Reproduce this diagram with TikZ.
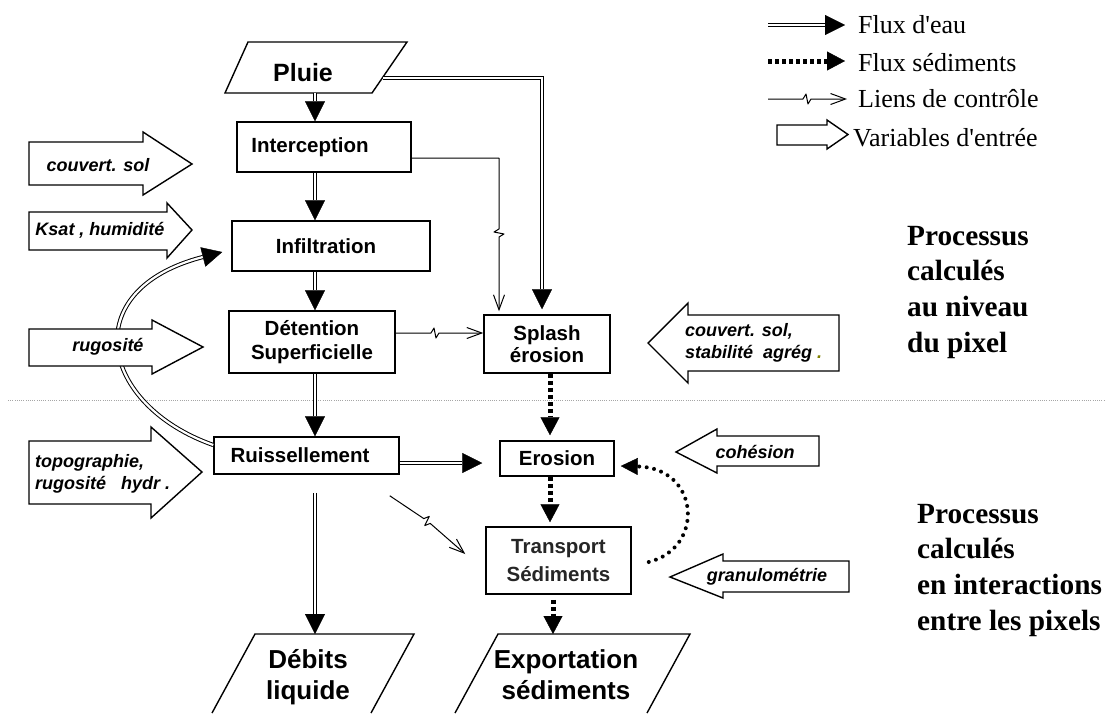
\documentclass[tikz,border=0pt]{standalone}
\usepackage{fontspec}
\setmainfont{Liberation Serif}
\newfontfamily\arialf{Liberation Sans}
\usetikzlibrary{arrows.meta,calc}
\definecolor{dotcol}{RGB}{128,128,0}
\begin{document}
\begin{tikzpicture}[x=1pt,y=-1pt,
  box/.style={draw,line width=1.5pt,inner sep=0pt,align=center,font=\arialf\bfseries\fontsize{20.5}{24}\selectfont},
  big/.style={inner sep=0pt,align=center,font=\arialf\bfseries\fontsize{26}{31}\selectfont},
  lab/.style={inner sep=0pt,align=left,font=\arialf\bfseries\itshape\fontsize{18}{22}\selectfont},
  inarr/.style={draw,line width=1.4pt,fill=white,line join=miter},
  shp/.style={draw,line width=1.4pt,line join=miter},
  water/.style={double,double distance=2.2pt,line width=1pt,-{Triangle[length=20pt,width=20pt,line width=0.4pt]}},
  sed/.style={line width=5pt,dash pattern=on 4pt off 3pt,-{Triangle[length=18pt,width=19pt,line width=0.4pt]}},
  sedc/.style={line width=4pt,line cap=round,dash pattern=on 0pt off 7.5pt,-{Triangle[length=17pt,width=17pt,line width=0.4pt]}},
  ctrl/.style={line width=1pt,line join=round,-{Straight Barb[length=15pt,width=11pt,line width=1pt]}},
  legt/.style={inner sep=0pt,anchor=base west,font=\fontsize{26}{30}\selectfont},
  proc/.style={inner sep=0pt,anchor=base west,font=\bfseries\fontsize{29.3}{36}\selectfont}
]
\useasboundingbox (0,0) rectangle (1106,713);

% separator
\coordinate (sepL) at (8,400);
\coordinate (sepR) at (1106,400);
\draw[gray!70,line width=0.7pt,dash pattern=on 1pt off 1.2pt] (sepL) -- (sepR);

% process boxes
\node[box,minimum width=174pt,minimum height=50pt] (interc) at (324,147) {Interception\kern28pt};
\node[box,minimum width=198pt,minimum height=50pt] (infil) at (331,246) {Infiltration\kern10pt};
\node[box,minimum width=166pt,minimum height=62pt] (detent) at (312,342) {Détention\\Superficielle};
\node[box,minimum width=185pt,minimum height=37pt] (ruis) at (306.5,455.5) {Ruissellement\kern13pt};
\node[box,minimum width=126pt,minimum height=58pt,font=\arialf\bfseries\fontsize{20.5}{22}\selectfont] (splash) at (547,344) {Splash\\érosion};
\node[box,minimum width=114pt,minimum height=35pt] (erosion) at (557,458.5) {Erosion};
\node[box,minimum width=145pt,minimum height=67pt,font=\arialf\bfseries\fontsize{20.5}{28}\selectfont,text=black!85] (transp) at (558.5,560.5) {Transport\\Sédiments};

% parallelograms
\draw[shp] (248,42) -- (407,42) -- (372,93) -- (225,93) -- cycle;
\node[inner sep=0pt,font=\arialf\bfseries\fontsize{25}{30}\selectfont] (pluie) at (303,73) {Pluie};
\draw[shp] (212,713) -- (255,634) -- (414,634) -- (371,713);
\node[big] (debits) at (308,677) {Débits\\liquide};
\draw[shp] (455,713) -- (498,634) -- (690,634) -- (647,713);
\node[big] (export) at (566,675) {Exportation\\sédiments};

\coordinate (pluieS) at (315,93);
\coordinate (pluieR) at (383,78);
\coordinate (debTop) at (315,634);
\coordinate (expTop) at (553,634);
\coordinate (colA) at (315,0);
\coordinate (colS) at (542,0);
\coordinate (colI) at (499,0);
\coordinate (colE) at (550,0);
\coordinate (colT) at (553,0);

% water flows
\draw[water] (pluieS) -- (pluieS |- interc.north);
\draw[water] (interc.south -| colA) -- (infil.north -| colA);
\draw[water] (infil.south -| colA) -- (detent.north -| colA);
\draw[water] (detent.south -| colA) -- (ruis.north -| colA);
\draw[water,shorten <=18pt] (ruis.south -| colA) -- (debTop);
\draw[water,shorten >=5pt] (pluieR) -| (colS |- splash.north);
\draw[water,shorten >=17pt] ($(ruis.east)+(0,7.5)$) coordinate (rE) -- (rE -| erosion.west);
\draw[water] ($(ruis.west)+(0,-10.5)$) .. controls (100,405) and (75,290) .. ($(infil.west)+(-9,6)$);

% control links
\draw[ctrl,shorten >=3pt] ($(interc.east)+(0,11)$) -| (499,229) -- (494,232) -- (504,234) -- (499,237) -- (colI |- splash.north);
\draw[ctrl] ($(detent.east)+(0,-9)$) -- (431,333) -- (434,328) -- (436,338) -- (439,333) -- ($(splash.west)+(0,-11)$);
\draw[ctrl] ($(ruis.south east)+(-10,21)$) -- (423.8,518.6) -- (429.3,516.4) -- (424.7,525.6) -- (430.2,523.4) -- ($(transp.west)+(-20,-6.5)$);

% sediment flows
\draw[sed,shorten >=5pt] (splash.south -| colE) -- (erosion.north -| colE);
\draw[sed,shorten >=4pt] (erosion.south -| colE) -- (transp.north -| colE);
\draw[sed,shorten <=5pt] (transp.south -| colT) -- (expTop);
\draw[sedc] ($(transp.east)+(17,1.5)$) .. controls (705,548) and (700,468) .. ($(erosion.east)+(6,7.5)$);

% input variables, left
\draw[inarr] (29,142) -- (143,142) -- (143,132) -- (192,164) -- (143,195) -- (143,185) -- (29,185) -- cycle;
\node[lab] (vcouv) at (98,165) {couvert. sol};
\draw[inarr] (29,212) -- (167,212) -- (167,203) -- (192,230) -- (167,258) -- (167,250) -- (29,250) -- cycle;
\node[lab] (vksat) at (100,230) {Ksat , humidité};
\draw[inarr] (29,329) -- (152,329) -- (152,320) -- (203,347) -- (152,374) -- (152,366) -- (29,366) -- cycle;
\node[lab] (vrug) at (108,347) {rugosité};
\draw[inarr] (29,441) -- (151,441) -- (151,427) -- (202,472) -- (151,518) -- (151,504) -- (29,504) -- cycle;
\node[lab,anchor=west] (vtopo) at (35,474) {topographie,\\rugosité\ \ \ hydr .};

% input variables, right
\draw[inarr] (648,343) -- (688,303) -- (688,315) -- (839,315) -- (839,371) -- (688,371) -- (688,383) -- cycle;
\node[lab,anchor=west] (vstab) at (685,343) {couvert. sol,\\stabilité\ \ agrég {\color{dotcol}.}};
\draw[inarr] (676,452) -- (717,429) -- (717,436) -- (819,436) -- (819,466) -- (717,466) -- (717,473) -- cycle;
\node[lab] (vcoh) at (755,452) {cohésion};
\draw[inarr] (670,577) -- (723,554) -- (723,561) -- (849,561) -- (849,592) -- (723,592) -- (723,598) -- cycle;
\node[lab] (vgran) at (767,577) {granulométrie};

% legend
\coordinate (lw1) at (768,25); \coordinate (lw2) at (845,25);
\draw[water] (lw1) -- (lw2);
\node[legt] (lgw) at (858,33) {Flux d\textquotesingle eau};
\coordinate (ls1) at (768,61); \coordinate (ls2) at (845,61);
\draw[sed] (ls1) -- (ls2);
\node[legt] (lgs) at (858,71) {Flux sédiments};
\coordinate (lc1) at (768,99); \coordinate (lc2) at (847,99);
\draw[ctrl] (lc1) -- (803,99) -- (806,94) -- (808,104) -- (811,99) -- (lc2);
\node[legt] (lgc) at (858,107) {Liens de contrôle};
\draw[inarr] (777,125) -- (827,125) -- (827,120) -- (848,134.5) -- (827,149) -- (827,145) -- (777,145) -- cycle;
\node[legt] (lgv) at (853,146) {Variables d\textquotesingle entrée};

% process level texts
\node[proc] (p1a) at (907,245) {Processus};
\node[proc] (p1b) at (907,280) {calculés};
\node[proc] (p1c) at (907,316) {au niveau};
\node[proc] (p1d) at (907,352) {du pixel};
\node[proc] (p2a) at (917,523) {Processus};
\node[proc] (p2b) at (917,558) {calculés};
\node[proc] (p2c) at (917,594) {en interactions};
\node[proc] (p2d) at (917,630) {entre les pixels};
\end{tikzpicture}
\end{document}
